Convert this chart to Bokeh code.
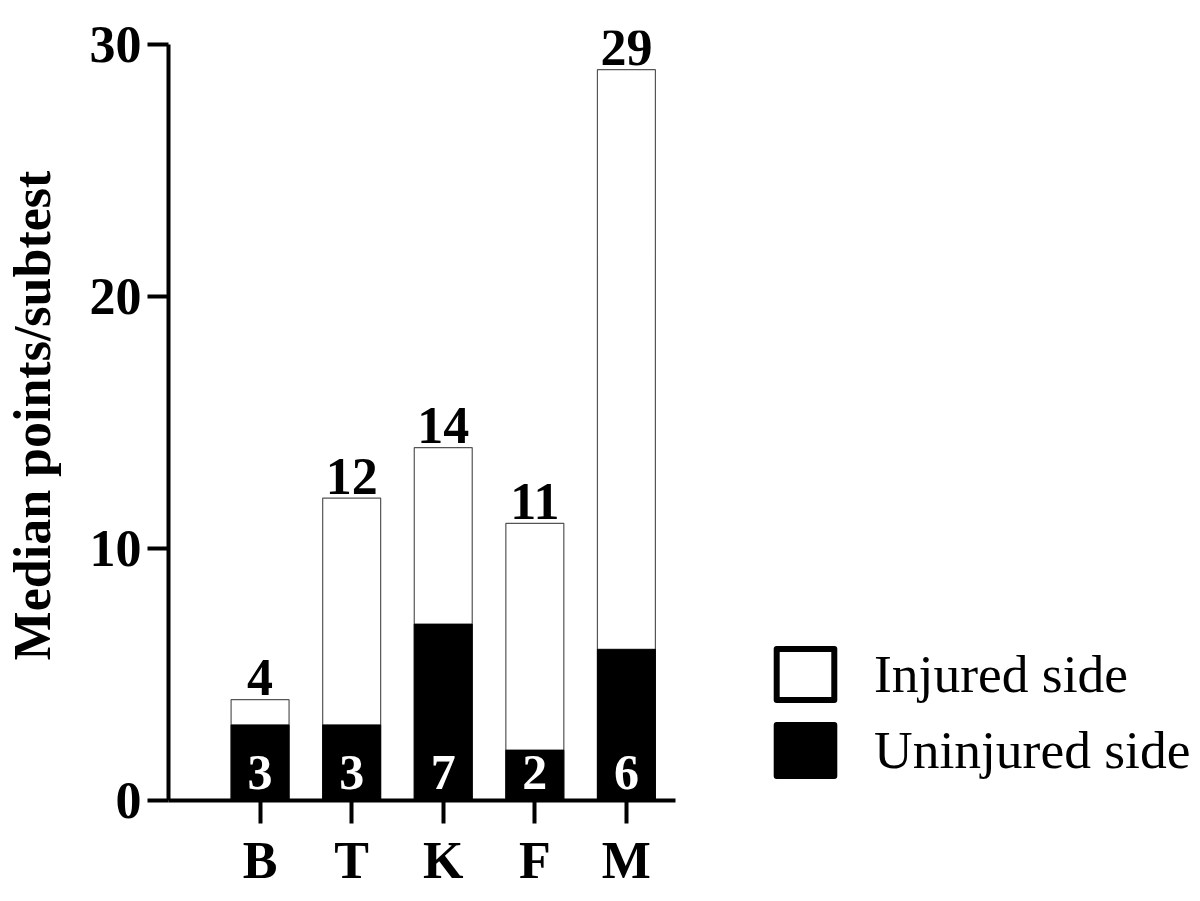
from bokeh.plotting import figure
from bokeh.models import ColumnDataSource, Range1d, FixedTicker, Legend, LegendItem
from bokeh.core.properties import value
from bokeh.embed import file_html
from bokeh.resources import INLINE

categories = ["B", "T", "K", "F", "M"]
injured = [4, 12, 14, 11, 29]
uninjured = [3, 3, 7, 2, 6]
y_ticks = [0, 10, 20, 30]

FONT = "Liberation Serif"
xs = list(range(len(categories)))

src = ColumnDataSource(dict(
    x=xs, injured=injured, uninjured=uninjured,
    inj_txt=[str(v) for v in injured], uninj_txt=[str(v) for v in uninjured],
    zero=[0] * len(xs),
))

# frame spans to the right edge so the legend can live inside it;
# axis lines are limited with bounds
X0, X1 = -1.0, 4.536
px_per_x = (675 - 168) / (X1 - X0)
x_end = X0 + (1200 - 168) / px_per_x
Y1 = 30
px_per_y = (800 - 44) / Y1
TOP = 30
y_end = (800 - TOP) / px_per_y

p = figure(width=1200, height=901, output_backend="svg", toolbar_location=None,
           x_range=Range1d(X0, x_end), y_range=Range1d(0, y_end),
           min_border_left=168, min_border_right=0, min_border_top=TOP, min_border_bottom=101)
p.outline_line_color = None
p.grid.visible = False
p.background_fill_color = "white"

bw = 0.633
p.vbar(x="x", top="injured", bottom=0, width=bw, source=src,
       fill_color="white", line_color="#555555", line_width=1.2)
p.vbar(x="x", top="uninjured", bottom=0, width=bw, source=src,
       fill_color="black", line_color="black", line_width=1)

p.text(x="x", y="injured", text="inj_txt", source=src, text_align="center",
       text_baseline="middle", y_offset=-22, text_font=value(FONT),
       text_font_style="bold", text_font_size="52px", text_color="black")
p.text(x="x", y="zero", text="uninj_txt", source=src, text_align="center",
       text_baseline="middle", y_offset=-28, text_font=value(FONT),
       text_font_style="bold", text_font_size="50px", text_color="white")

# legend-only renderers (NaN -> nothing drawn in the plot)
leg_src = ColumnDataSource(dict(x=[float("nan")], top=[float("nan")]))
r_inj = p.vbar(x="x", top="top", width=bw, source=leg_src, fill_color="white",
               line_color="black", line_width=6, line_join="round")
r_un = p.vbar(x="x", top="top", width=bw, source=leg_src, fill_color="black",
              line_color="black", line_width=6, line_join="round")

legend = Legend(items=[LegendItem(label="Injured side", renderers=[r_inj]),
                       LegendItem(label="Uninjured side", renderers=[r_un])],
                location=(601, 18), orientation="vertical",
                glyph_width=72, glyph_height=64, label_standoff=33,
                label_text_font=FONT, label_text_font_size="53.5px",
                label_text_color="black", spacing=12, padding=0, margin=0,
                border_line_color=None, background_fill_alpha=0)
p.add_layout(legend)

# axes
for ax in (p.xaxis[0], p.yaxis[0]):
    ax.axis_line_width = 4
    ax.axis_line_color = "black"
    ax.major_tick_line_width = 4
    ax.major_tick_line_color = "black"
    ax.major_tick_in = 0
    ax.minor_tick_line_color = None
    ax.major_label_text_font = FONT
    ax.major_label_text_font_style = "bold"
    ax.major_label_text_font_size = "52px"
    ax.major_label_text_color = "black"

p.yaxis.ticker = FixedTicker(ticks=y_ticks)
p.yaxis.bounds = (0, Y1)
p.yaxis.major_tick_out = 21
p.yaxis.major_label_standoff = 6
p.yaxis.axis_label = "Median points/subtest"
p.yaxis.axis_label_text_font = FONT
p.yaxis.axis_label_text_font_style = "bold"
p.yaxis.axis_label_text_font_size = "52px"
p.yaxis.axis_label_text_color = "black"
p.yaxis.axis_label_standoff = 26

p.xaxis.ticker = FixedTicker(ticks=xs)
p.xaxis.bounds = (X0, X1)
p.xaxis.major_label_overrides = {i: c for i, c in zip(xs, categories)}
p.xaxis.major_tick_out = 23
p.xaxis.major_label_standoff = 8

open("out.html", "w").write(file_html(p, INLINE))
